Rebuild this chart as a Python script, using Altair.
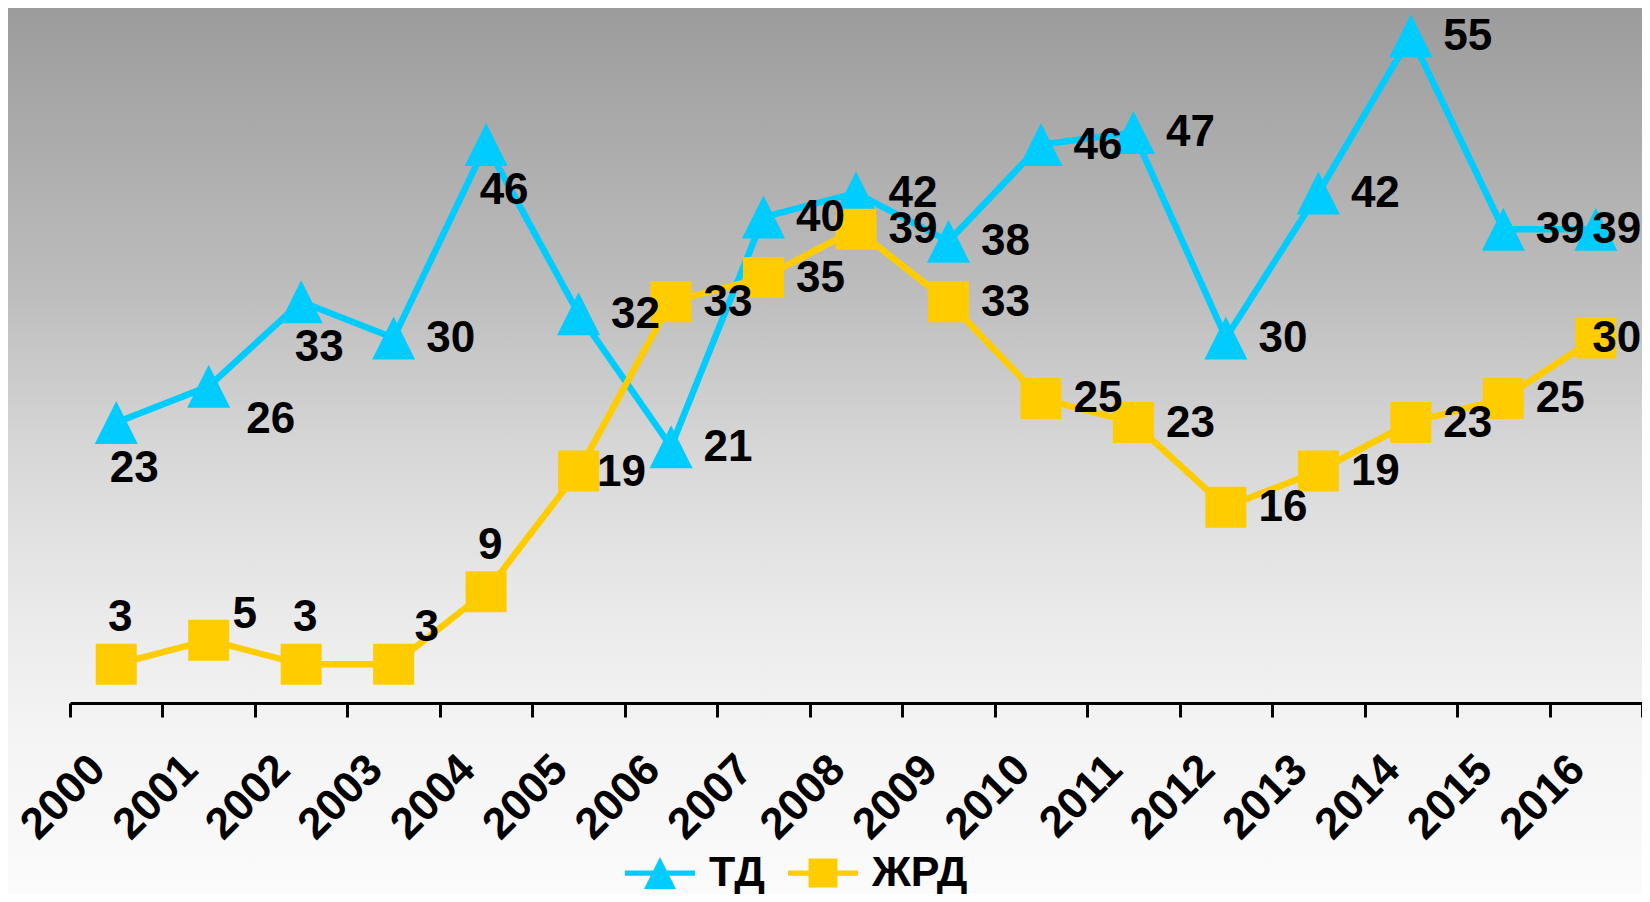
import altair as alt
import pandas as pd

# ---------------- data ----------------
years = [str(y) for y in range(2000, 2017)]
series_names = ["ТД", "ЖРД"]
td_values = [23, 26, 33, 30, 46, 32, 21, 40, 42, 38, 46, 47, 30, 42, 55, 39, 39]
zhrd_values = [3, 5, 3, 3, 9, 19, 33, 35, 39, 33, 25, 23, 16, 19, 23, 25, 30]

# ---------------- style ----------------
series_colors = ["#00CCFF", "#FFCC00"]
FONT = "Liberation Sans"

# data-label placement names per point (styling only)
td_place = ["below", "br", "below", "right", "below", "right", "right", "right", "right",
            "right", "right", "right", "right", "right", "right", "right", "edge"]
zhrd_place = ["above", "ar1", "above", "ar2", "above", "r2", "right", "right", "right",
              "right", "right", "right", "right", "right", "right", "right", "edge"]
place_offsets = {
    "right": (57, 1), "below": (18, 46), "br": (62, 34), "above": (4, -46),
    "ar1": (36, -25), "ar2": (33, -36), "r2": (43, 2), "edge": (21, 1),
}

TRI = "M0,-1L1,1L-1,1Z"
SQR = "M-1,-1L1,-1L1,1L-1,1Z"
TD_LEG = "M-1,-0.075L1,-0.075L1,0.075L-1,0.075Z M0,-0.457L0.457,0.457L-0.457,0.457Z"
ZH_LEG = "M-1,-0.075L1,-0.075L1,0.075L-1,0.075Z M-0.414,-0.414L0.414,-0.414L0.414,0.414L-0.414,0.414Z"

W, H = 1572, 695

rows = []
for i, y in enumerate(years):
    rows.append({"year": y, "series": series_names[0], "value": td_values[i], "place": td_place[i]})
for i, y in enumerate(years):
    rows.append({"year": y, "series": series_names[1], "value": zhrd_values[i], "place": zhrd_place[i]})
df = pd.DataFrame(rows)

x_enc = alt.X(
    "year:N",
    sort=years,
    scale=alt.Scale(type="band", paddingInner=0, paddingOuter=0),
    axis=alt.Axis(
        title=None, labelAngle=-45, labelAlign="right", labelBaseline="top",
        labelFontSize=44, labelFont=FONT, labelFontWeight="bold", labelColor="black",
        labelPadding=30, labelOffset=-34, tickSize=14, tickWidth=3, tickColor="black",
        domainColor="black", domainWidth=3, tickBand="extent", grid=False,
        labelOverlap=False, zindex=2,
    ),
)
y_enc = alt.Y("value:Q", scale=alt.Scale(domain=[-0.2, 57.3], nice=False, zero=False), axis=None)

color_scale = alt.Scale(domain=series_names, range=series_colors)
legend = alt.Legend(
    orient="none", legendX=555, legendY=830, direction="horizontal", title=None,
    symbolSize=4900, labelFontSize=43, labelFont=FONT, labelFontWeight="bold",
    labelColor="black", labelOffset=14, columnPadding=23, padding=0, labelLimit=400,
    symbolOpacity=1, symbolStrokeWidth=0, zindex=2,
)
color_nolegend = alt.Color("series:N", scale=color_scale, legend=None)

bg = alt.Chart(pd.DataFrame({"a": [0]})).mark_rect(
    fill=alt.LinearGradient(
        gradient="linear", x1=0, x2=0, y1=0, y2=1,
        stops=[
            alt.GradientStop(color="#9c9c9c", offset=0),
            alt.GradientStop(color="#bdbdbd", offset=0.32),
            alt.GradientStop(color="#d7d7d7", offset=0.5),
            alt.GradientStop(color="#e9e9e9", offset=0.67),
            alt.GradientStop(color="#f4f4f4", offset=0.82),
            alt.GradientStop(color="#fbfbfb", offset=1),
        ],
    )
).encode(x=alt.value(-62), x2=alt.value(W), y=alt.value(0), y2=alt.value(886))

base = alt.Chart(df)
layers = [bg]
for name, shape, size in [(series_names[0], TRI, 1849), (series_names[1], SQR, 1681)]:
    sub = base.transform_filter(alt.datum.series == name)
    layers.append(sub.mark_line(strokeWidth=6.5).encode(x=x_enc, y=y_enc, color=color_nolegend))
    layers.append(sub.mark_point(shape=shape, size=size, filled=True, opacity=1, strokeWidth=0)
                  .encode(x=x_enc, y=y_enc, color=color_nolegend))

# legend-only layer (no drawn marks) carrying the line+marker legend symbols
layers.append(
    base.transform_filter("false").mark_point(filled=True, size=4900, strokeWidth=0).encode(
        x=x_enc, y=y_enc,
        color=alt.Color("series:N", scale=color_scale, legend=legend),
        shape=alt.Shape("series:N", scale=alt.Scale(domain=series_names, range=[TD_LEG, ZH_LEG]),
                        legend=legend),
    )
)

for pname, (dx, dy) in place_offsets.items():
    layers.append(
        base.transform_filter(alt.datum.place == pname)
        .mark_text(dx=dx, dy=dy, fontSize=44, font=FONT, fontWeight="bold", color="black",
                   align="center", baseline="middle")
        .encode(x=x_enc, y=y_enc, text="value:Q")
    )

chart = alt.layer(*layers).resolve_legend(color="independent", shape="independent").properties(
    width=W, height=H,
    autosize=alt.AutoSizeParams(type="none"),
    padding={"left": 62, "top": 0, "right": 0, "bottom": 191},
).configure_view(stroke=None)

chart.save("out.html", embed_options={"renderer": "svg", "actions": False})
